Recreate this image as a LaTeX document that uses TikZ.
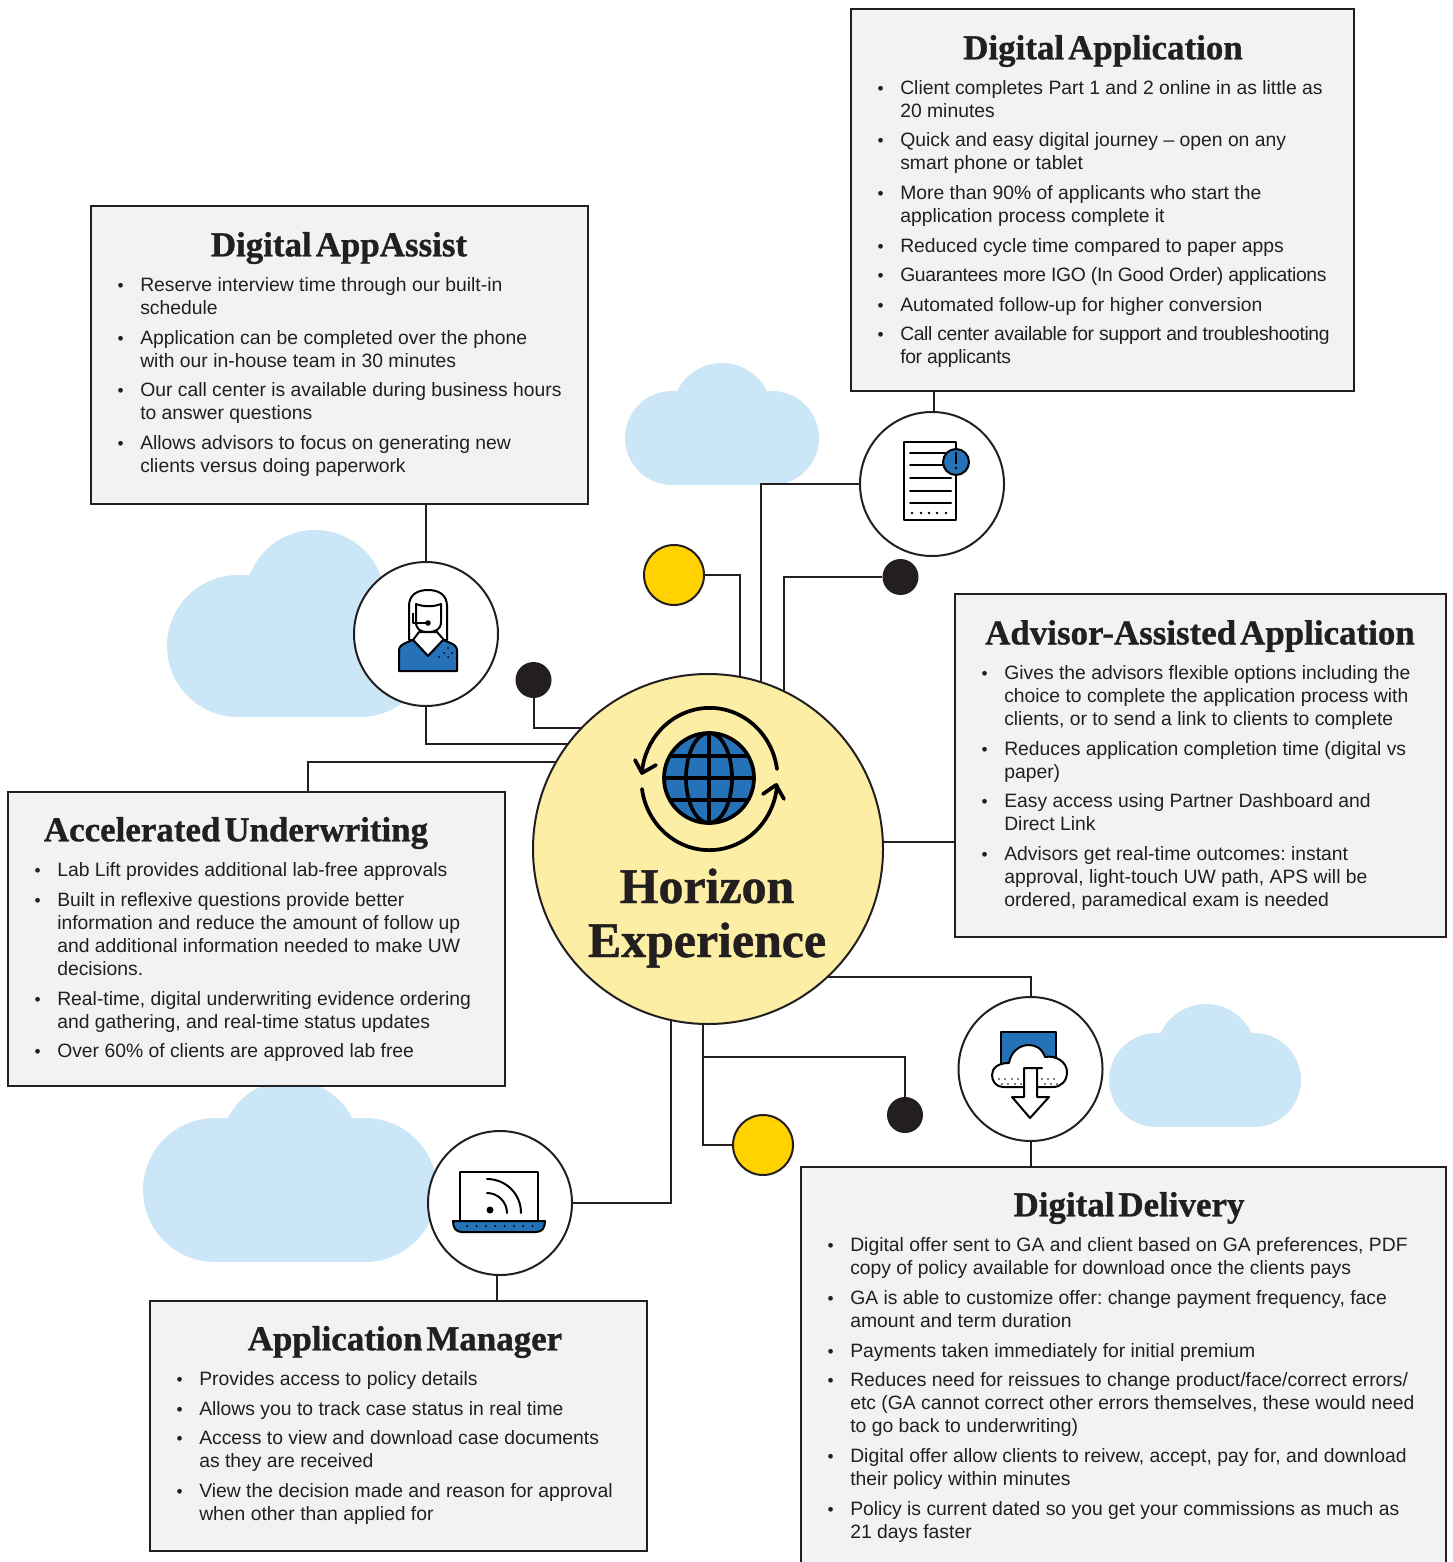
\documentclass[tikz,border=0pt]{standalone}
\usepackage{fontspec}
\setmainfont{Liberation Sans}
\newfontfamily\ttlfont[FakeBold=0.9,WordSpace=0.45]{Liberation Serif Bold}
\newcommand{\tightline}[2]{{\addfontfeature{LetterSpace=#1}#2}}
\definecolor{ink}{HTML}{231F20}
\definecolor{panelfill}{HTML}{F1F2F4}
\definecolor{cloudblue}{HTML}{CBE7F7}
\definecolor{hubyellow}{HTML}{FCEEA5}
\definecolor{dotyellow}{HTML}{FFD200}
\definecolor{iconblue}{HTML}{2672B8}
\pgfdeclarelayer{under}
\pgfsetlayers{under,main}
\tikzset{
  x=0.75pt,y=-0.75pt,
  panel/.style={draw=ink,fill=panelfill,line width=1.5pt,inner sep=0pt,rectangle},
  bodytxt/.style={anchor=north west,align=left,inner sep=0pt,text=ink,font=\fontsize{14.5}{17.25}\selectfont\frenchspacing},
  ttl/.style={inner sep=0pt,text=ink,font=\ttlfont\fontsize{26.2}{30}\selectfont},
  conn/.style={draw=ink,line width=1.5pt},
  iconcirc/.style={circle,draw=ink,fill=white,line width=1.5pt,minimum size=108pt,inner sep=0pt},
  ydot/.style={circle,draw=ink,fill=dotyellow,line width=1.5pt,minimum size=45pt,inner sep=0pt},
  bdot/.style={circle,fill=ink,minimum size=27pt,inner sep=0pt},
  ic/.style={draw=black,line width=1.5pt,line join=round},
  icthick/.style={draw=black,line width=2.8pt,line cap=round,line join=round},
}
\newcommand{\panelbox}[5]{%
  \pgfmathsetmacro\pw{(#4-#2)*0.75}\pgfmathsetmacro\ph{(#5-#3)*0.75}%
  \node[panel,minimum width=\pw pt,minimum height=\ph pt] (#1) at ({(#2+#4)/2},{(#3+#5)/2}) {};}
\newcommand{\itm}[4]{\node[bodytxt] (#1) at (#2,{#3-8.5}) {\rule{0pt}{12pt}\llap{{\fontsize{13}{13}\selectfont •}\hspace{12.5pt}}#4};}
% cloud: left lobe x, right lobe x, lobe y, lobe r, top x, top y, top r
\newcommand{\cloudshape}[7]{%
  \fill[cloudblue] (#1,#3) circle[radius=#4];
  \fill[cloudblue] (#2,#3) circle[radius=#4];
  \fill[cloudblue] (#5,#6) circle[radius=#7];
  \fill[cloudblue] (#1,{#3-#4}) rectangle (#2,{#3+#4});}
\begin{document}
\begin{tikzpicture}
\path[use as bounding box,clip] (0,0) rectangle (1452,1562);
% ---------- panels
\panelbox{dabox}{851}{9}{1354}{391}
\panelbox{aabox}{90.5}{206}{588}{504}
\panelbox{advbox}{954.5}{594}{1446}{937}
\panelbox{aubox}{8}{791.5}{505}{1086}
\panelbox{ambox}{150}{1300.5}{647}{1551}
\panelbox{ddbox}{801}{1166.5}{1446}{1600}
% ---------- hub, circles, dots
\node[circle,draw=ink,fill=hubyellow,line width=1.5pt,minimum size=262.5pt,inner sep=0pt] (hub) at (708,849) {};
\node[iconcirc] (doc) at (932,484) {};
\node[iconcirc] (head) at (426,634) {};
\node[iconcirc] (dl) at (1030.5,1069) {};
\node[iconcirc] (lap) at (500,1203) {};
\node[ydot] (yA) at (674,575) {};
\node[ydot] (yB) at (763,1145) {};
\node[bdot] (bA) at (900.5,577) {};
\node[bdot] (bB) at (533.5,680) {};
\node[bdot] (bC) at (905,1115) {};
% ---------- points where the connectors meet the hub
\coordinate (hA) at (740,677);
\coordinate (hB) at (761,682);
\coordinate (hC) at (784,691);
\coordinate (hD) at (568,744);
\coordinate (hE) at (582,728);
\coordinate (hF) at (556,762);
\coordinate (hG) at (883,842);
\coordinate (hH) at (827,977);
\coordinate (hI) at (703,1023);
\coordinate (hJ) at (671,1020);
\coordinate (jd) at (703,1057);
% ---------- clouds and connectors underneath
\begin{pgfonlayer}{under}
\cloudshape{672}{772}{438}{47}{722}{413}{50}
\cloudshape{238}{360}{646}{71}{315}{600}{70}
\cloudshape{1156}{1254}{1080}{47}{1206}{1054}{50}
\cloudshape{215}{365}{1190}{72}{290}{1150}{70}
\draw[conn] ([xshift=1.5pt]doc.north) -- ([xshift=1.5pt]doc.north |- dabox.south);
\draw[conn] (doc.west) -| (hB);
\draw[conn] (yA.east) -| (hA);
\draw[conn] (bA.west) -| (hC);
\draw[conn] (head.north) -- (head.north |- aabox.south);
\draw[conn] (head.south) |- (hD);
\draw[conn] (bB.south) |- (hE);
\draw[conn] ([xshift=38.6pt]aubox.north) |- (hF);
\draw[conn] (hG) -- (hG -| advbox.west);
\draw[conn] (hH) -| (dl.north);
\draw[conn] (dl.south) -- (dl.south |- ddbox.north);
\draw[conn] (bC.north) |- (jd) -- (hI);
\draw[conn] (yB.west) -| (hI);
\draw[conn] (lap.east) -| (hJ);
\draw[conn] ([xshift=-2.25pt]lap.south) -- ([xshift=-2.25pt]lap.south |- ambox.north);
\end{pgfonlayer}
% ---------- titles
\node[ttl] (t1) at (1103,51) {Digital Application};
\node[ttl] (t2) at (339,248) {Digital AppAssist};
\node[ttl] (t3) at (1200,636) {Advisor-Assisted Application};
\node[ttl] (t4) at (236,833) {Accelerated Underwriting};
\node[ttl] (t5) at (405,1342) {Application Manager};
\node[ttl] (t6) at (1129,1208) {Digital Delivery};
\node[inner sep=0pt,align=center,text=ink,font=\ttlfont\fontsize{37.4}{40.5}\selectfont] (hubt) at (707,918) {Horizon\\Experience};
% ---------- Digital Application
\itm{a1}{900}{87}{Client completes Part 1 and 2 online in as little as\\20 minutes}
\itm{a2}{900}{139}{Quick and easy digital journey – open on any\\smart phone or tablet}
\itm{a3}{900}{192}{More than 90\% of applicants who start the\\application process complete it}
\itm{a4}{900}{245}{Reduced cycle time compared to paper apps}
\itm{a5}{900}{274}{\tightline{-1.8}{Guarantees more IGO (In Good Order) applications}}
\itm{a6}{900}{304}{Automated follow-up for higher conversion}
\itm{a7}{900}{333}{\tightline{-2}{Call center available for support and troubleshooting}\\\tightline{-1.8}{for applicants}}
% ---------- Digital AppAssist
\itm{b1}{140}{284}{Reserve interview time through our built-in\\schedule}
\itm{b2}{140}{337}{Application can be completed over the phone\\with our in-house team in 30 minutes}
\itm{b3}{140}{389}{Our call center is available during business hours\\to answer questions}
\itm{b4}{140}{442}{Allows advisors to focus on generating new\\clients versus doing paperwork}
% ---------- Advisor-Assisted
\itm{c1}{1004}{672}{Gives the advisors flexible options including the\\choice to complete the application process with\\clients, or to send a link to clients to complete}
\itm{c2}{1004}{748}{Reduces application completion time (digital vs\\paper)}
\itm{c3}{1004}{800}{Easy access using Partner Dashboard and\\Direct Link}
\itm{c4}{1004}{853}{Advisors get real-time outcomes: instant\\approval, light-touch UW path, APS will be\\ordered, paramedical exam is needed}
% ---------- Accelerated Underwriting
\itm{d1}{57}{869}{Lab Lift provides additional lab-free approvals}
\itm{d2}{57}{899}{Built in reflexive questions provide better\\information and reduce the amount of follow up\\and additional information needed to make UW\\decisions.}
\itm{d3}{57}{998}{Real-time, digital underwriting evidence ordering\\and gathering, and real-time status updates}
\itm{d4}{57}{1050}{Over 60\% of clients are approved lab free}
% ---------- Application Manager
\itm{e1}{199}{1378}{Provides access to policy details}
\itm{e2}{199}{1408}{Allows you to track case status in real time}
\itm{e3}{199}{1437}{Access to view and download case documents\\as they are received}
\itm{e4}{199}{1490}{View the decision made and reason for approval\\when other than applied for}
% ---------- Digital Delivery
\itm{f1}{850}{1244}{Digital offer sent to GA and client based on GA preferences, PDF\\copy of policy available for download once the clients pays}
\itm{f2}{850}{1297}{GA is able to customize offer: change payment frequency, face\\amount and term duration}
\itm{f3}{850}{1350}{Payments taken immediately for initial premium}
\itm{f4}{850}{1379}{Reduces need for reissues to change product/face/correct errors/\\etc (GA cannot correct other errors themselves, these would need\\to go back to underwriting)}
\itm{f5}{850}{1455}{Digital offer allow clients to reivew, accept, pay for, and download\\their policy within minutes}
\itm{f6}{850}{1508}{Policy is current dated so you get your commissions as much as\\21 days faster}
% ---------- icon: document
\draw[ic,fill=white] (904,442) rectangle (956,520);
\foreach \yy/\xe in {453/945,465/945,478/951,491/951,503/951}
  \draw[ic,line cap=round] (910,\yy) -- (\xe,\yy);
\foreach \xx in {912,921,929,937,946} \fill[black] (\xx,513) circle[radius=1.3];
\draw[ic,fill=iconblue] (956,462) circle[radius=13];
\draw[draw=black,line width=1.1pt] (956,452) -- (956,464);
\fill[black] (956,468) circle[radius=1.4];
% ---------- icon: headset person
\draw[ic,fill=white] (409,640) -- (409,606) .. controls (409,595) and (417,590) .. (428,590) .. controls (439,590) and (447,595) .. (447,606) -- (447,640) -- cycle;
\draw[ic,fill=white] (413,640) -- (419,632) -- (437,632) -- (444,640) -- (428,656) -- cycle;
\draw[ic,fill=iconblue] (399,671) -- (399,650) .. controls (399,646) and (402,644) .. (413,640) -- (428,656) -- (443,640) .. controls (454,644) and (457,646) .. (457,650) -- (457,671) -- cycle;
\draw[ic,fill=white] (416,604) .. controls (424,607) and (433,607) .. (441,604) -- (441,622) .. controls (441,629) and (436,632) .. (428,632) .. controls (420,632) and (416,629) .. (416,622) -- cycle;
\draw[ic] (413,613) -- (413,623) -- (428,623);
\fill[black] (428,623) circle[radius=2.8];
\foreach \xx/\yy in {448/648,444/653,452/653,439/657,448/657} \fill[black] (\xx,\yy) circle[radius=1];
% ---------- icon: cloud download
\draw[ic,fill=iconblue] (1001,1068) -- (1001,1032) -- (1056,1032) -- (1056,1068);
\draw[ic,fill=white] (1003,1087) .. controls (996,1087) and (992,1081) .. (992,1075) .. controls (992,1068) and (998,1063) .. (1009,1063) .. controls (1011,1051) and (1020,1045) .. (1029,1045) .. controls (1035,1045) and (1042,1048) .. (1045,1057) .. controls (1056,1055) and (1067,1062) .. (1067,1072) .. controls (1067,1081) and (1061,1087) .. (1053,1087) -- cycle;
\foreach \xx in {999,1005,1012,1018,1042,1048,1054} {\fill[black] (\xx,1079) circle[radius=.8]; \fill[black] (\xx+3,1084) circle[radius=.8];}
\draw[ic,fill=white] (1024,1068) -- (1042,1068) -- (1037,1068) -- (1037,1097) -- (1049,1097) -- (1030,1118) -- (1012,1097) -- (1024,1097) -- cycle;
% ---------- icon: laptop
\draw[ic,fill=white] (460,1221) -- (460,1172) -- (538,1172) -- (538,1221);
\draw[ic,fill=iconblue] (453,1221) -- (545,1221) .. controls (545,1228) and (542,1232) .. (536,1232) -- (462,1232) .. controls (456,1232) and (453,1228) .. (453,1221) -- cycle;
\foreach \i in {0,...,7} \fill[black] ({467.3+9.33*\i},1226) circle[radius=1.1];
\fill[black] (490,1210) circle[radius=3.5];
\draw[ic,line cap=round] (487,1193) .. controls (498,1193) and (507,1202) .. (507,1213);
\draw[ic,line cap=round] (487,1179) .. controls (506,1179) and (521,1194) .. (521,1213);
% ---------- icon: globe
\draw[icthick,fill=iconblue] (709,778) circle[radius=45];
\draw[icthick] (709,733) -- (709,823) (664,778) -- (754,778) (672,756) -- (746,756) (672,800) -- (746,800);
\draw[icthick] (709,778) ellipse[x radius=17.25pt,y radius=33.75pt];
\draw[icthick] (777,769) arc[start angle=8,end angle=175,x radius=51pt,y radius=53.25pt];
\draw[icthick] (635,760) -- (642,773) -- (656,765);
\draw[icthick] (642,789) arc[start angle=188,end angle=355,x radius=51pt,y radius=53.25pt];
\draw[icthick] (763,794) -- (776,785) -- (784,799);
\end{tikzpicture}
\end{document}
